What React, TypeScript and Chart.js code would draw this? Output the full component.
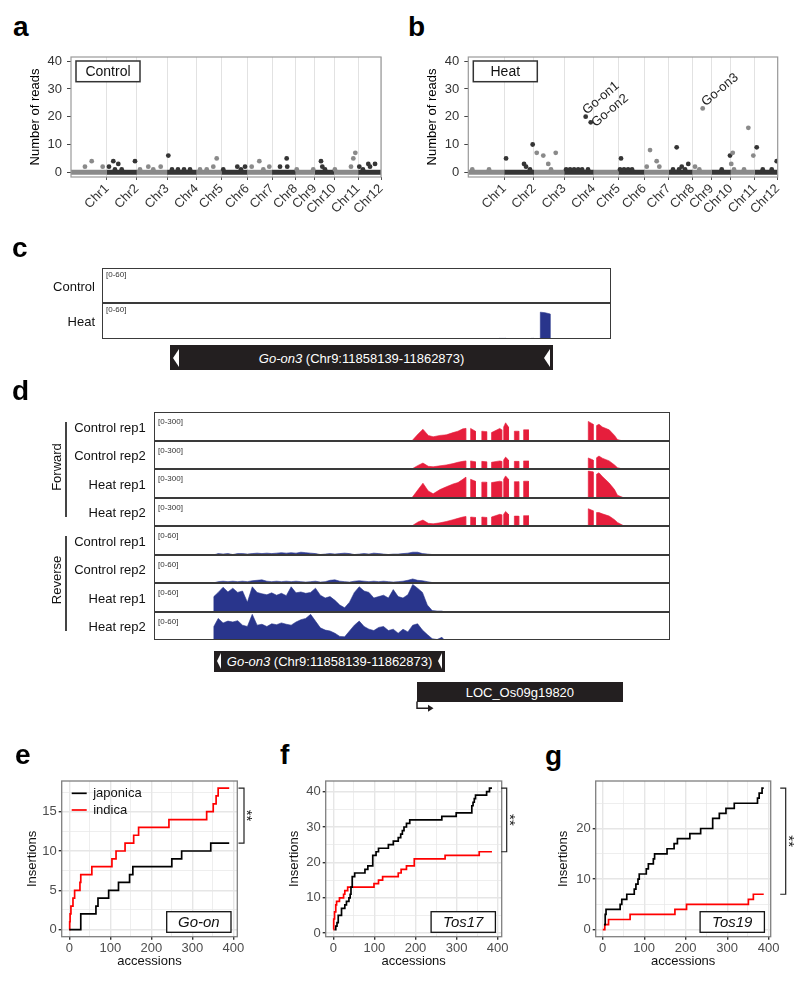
import React, { useEffect, useRef } from 'react';
import { Chart, registerables } from 'chart.js';

Chart.register(...registerables);

const FONT = "'Liberation Sans', Arial, Helvetica, sans-serif";

/* ================= a / b : genome-wide read counts ================= */
const chrNames = ['Chr1', 'Chr2', 'Chr3', 'Chr4', 'Chr5', 'Chr6', 'Chr7', 'Chr8', 'Chr9', 'Chr10', 'Chr11', 'Chr12'];
const chrSizesMb = [43.3, 35.9, 36.4, 35.5, 29.9, 31.2, 29.7, 28.4, 23.0, 23.2, 29.0, 27.5];
const readTicks = [0, 10, 20, 30, 40];

const controlPosMb = [16.8, 24.9, 38.1, 45.7, 50.9, 56.9, 52.9, 61, 77, 83, 93, 99, 107.9, 117.1, 121.5, 128.7, 136, 143.2, 155.2, 163.3, 171.2, 175.3, 183.2, 200.1, 204.5, 209.4, 217.4, 226.6, 231.4, 238.6, 251.5, 259.5, 260.2, 271.6, 291.5, 300.8, 302.4, 305.6, 317.5, 336.9, 339.7, 342.1, 346.9, 351.3, 357.7, 359.8, 365.8];
const controlReads = [2, 4, 2, 2, 4, 3, 1, 1, 4, 1, 2, 1, 2, 6, 1, 1, 1, 1, 1, 1, 2, 5, 1, 2, 1, 2, 2, 4, 1, 2, 2, 5, 2, 1, 1, 4, 2, 1, 1, 2, 5, 7, 2, 1, 3, 2, 3];

const heatPosMb = [4.8, 25, 45.5, 67.2, 69.6, 74.4, 77.6, 82.5, 90.4, 96.4, 99.7, 105.4, 117.9, 122.7, 127.5, 132.4, 137.2, 141.5, 144.3, 147.6, 182.9, 184.1, 187.7, 192.6, 197.4, 215.1, 219.1, 227.1, 230.3, 246.8, 251.2, 254, 257.3, 261.3, 265.2, 273.3, 278.5, 282.6, 305.5, 315.5, 317, 318.8, 320.3, 332.4, 337.6, 343.6, 347.7, 355, 365.8, 371.8];
const heatReads = [1, 1, 5, 3, 2, 1, 10, 7, 6, 3, 1, 7, 1, 1, 1, 1, 1, 20, 1, 18, 1, 5, 1, 1, 1, 2, 8, 4, 2, 1, 9, 1, 2, 1, 3, 2, 1, 23, 1, 6, 3, 7, 1, 1, 16, 6, 9, 1, 1, 4];

const annotNames = ['Go-on1', 'Go-on2', 'Go-on3'];
const annotPosMb = [141.5, 147.6, 282.6];
const annotReads = [20, 18, 23];

/* ================= c : Go-on3 coverage (kb from window start) ================= */
const cTrackNames = ['Control', 'Heat'];
const cWindowKb = 6.295;
const cGeneKb = [0.844, 5.578];
const cPosKb = [0, 4.9, 4.92, 5.0, 5.01, 5.31, 5.32, 5.35, 5.36, 5.43, 5.43, 5.49, 5.55, 5.55, 6.295];
const cControlCov = [0, 0, 0, 0, 0, 0, 0, 0, 0, 0, 0, 0, 0, 0, 0];
const cHeatCov = [0, 0, 1, 1, 0, 0, 1, 1, 0, 0, 46, 45, 43, 0, 0];

/* ================= d : stranded RNA-seq (kb from window start) ================= */
const dWindowKb = 10.57;
const dGoOn3Kb = [1.23, 5.965];
const dLocKb = [5.39, 9.6];
const dTrackNames = ['Control rep1', 'Control rep2', 'Heat rep1', 'Heat rep2', 'Control rep1', 'Control rep2', 'Heat rep1', 'Heat rep2'];

const fwdPosKb = [5.28, 5.41, 5.51, 5.62, 5.72, 5.86, 5.99, 6.13, 6.23, 6.33, 6.39, 6.39, 6.49, 6.49, 6.59, 6.59, 6.72, 6.72, 6.82, 6.82, 6.92, 6.92, 7.09, 7.13, 7.13, 7.17, 7.17, 7.21, 7.27, 7.27, 7.39, 7.39, 7.48, 7.48, 7.58, 7.58, 7.68, 7.68, 8.91, 8.91, 9.01, 9.01, 9.08, 9.08, 9.13, 9.2, 9.34, 9.45, 9.51, 9.58, 9.65];
const fwdControlRep1 = [0, 75, 126, 60, 45, 60, 66, 90, 105, 130, 135, 0, 0, 135, 105, 0, 0, 105, 100, 0, 0, 90, 135, 120, 0, 0, 150, 195, 150, 0, 0, 105, 105, 0, 0, 120, 120, 0, 0, 210, 180, 0, 0, 165, 180, 150, 120, 60, 15, 6, 0];
const fwdControlRep2 = [0, 40, 66, 30, 25, 35, 45, 60, 75, 85, 90, 0, 0, 90, 80, 0, 0, 85, 80, 0, 0, 75, 90, 85, 0, 0, 100, 132, 100, 0, 0, 85, 85, 0, 0, 90, 90, 0, 0, 123, 100, 0, 0, 125, 144, 120, 90, 45, 15, 5, 0];
const fwdHeatRep1 = [0, 90, 159, 75, 45, 90, 120, 150, 165, 200, 222, 0, 0, 200, 180, 0, 0, 170, 170, 0, 0, 165, 180, 175, 0, 0, 200, 237, 200, 0, 0, 175, 175, 0, 0, 180, 180, 0, 0, 288, 280, 0, 0, 255, 270, 230, 160, 90, 30, 15, 0];
const fwdHeatRep2 = [0, 45, 66, 30, 25, 35, 50, 70, 85, 100, 105, 0, 0, 100, 95, 0, 0, 100, 95, 0, 0, 100, 130, 125, 0, 0, 130, 162, 130, 0, 0, 110, 110, 0, 0, 115, 115, 0, 0, 192, 170, 0, 0, 150, 150, 135, 110, 70, 40, 20, 0];

const revPosKb = [1.2, 1.21, 1.3, 1.4, 1.5, 1.6, 1.7, 1.8, 1.9, 2.0, 2.1, 2.2, 2.3, 2.4, 2.5, 2.6, 2.7, 2.8, 2.9, 3.0, 3.1, 3.2, 3.3, 3.4, 3.5, 3.6, 3.7, 3.8, 3.9, 4.0, 4.1, 4.2, 4.3, 4.4, 4.5, 4.6, 4.7, 4.8, 4.9, 5.0, 5.1, 5.2, 5.3, 5.4, 5.5, 5.6, 5.7, 5.8, 5.9, 5.95];
const revControlRep1 = [0, 0, 3, 2, 3, 1, 3, 3, 2, 3, 4, 3, 4, 3, 4, 5, 4, 5, 4, 6, 5, 4, 3, 1, 2, 3, 2, 3, 4, 3, 1, 2, 3, 2, 4, 3, 2, 1, 2, 2, 3, 4, 6, 6, 3, 2, 1, 0, 1, 0];
const revControlRep2 = [0, 0, 3, 4, 3, 4, 3, 4, 3, 5, 6, 7, 4, 3, 4, 3, 4, 3, 4, 3, 2, 3, 4, 2, 3, 6, 7, 4, 3, 2, 4, 5, 4, 3, 4, 3, 4, 3, 2, 3, 4, 6, 9, 6, 5, 3, 1, 0, 0, 0];
const revHeatRep1 = [0, 33, 42, 53, 43, 51, 42, 45, 21, 54, 42, 39, 37, 41, 36, 40, 35, 54, 41, 43, 40, 42, 51, 36, 30, 33, 25, 15, 9, 21, 42, 54, 45, 42, 30, 33, 36, 30, 48, 33, 30, 37, 59, 51, 42, 15, 3, 2, 2, 0];
const revHeatRep2 = [0, 30, 48, 38, 42, 40, 43, 33, 30, 57, 33, 35, 30, 36, 34, 38, 35, 33, 40, 45, 48, 57, 42, 27, 22, 20, 15, 8, 7, 20, 33, 42, 30, 24, 21, 28, 30, 21, 24, 15, 24, 18, 33, 36, 22, 12, 3, 1, 6, 0];

/* ================= e / f / g : cumulative insertions ================= */
const accTicks = [0, 50, 100, 150, 200, 250, 300, 350, 400];

const eJapX = [0, 28, 65, 70, 96, 120, 147, 155, 250, 274, 345, 390];
const eJapY = [0, 2, 3, 4, 5, 6, 7, 8, 9, 10, 11, 11];
const eIndX = [0, 1, 2, 4, 9, 13, 26, 28, 55, 104, 114, 136, 157, 169, 243, 335, 351, 358, 363, 390];
const eIndY = [0, 1, 2, 3, 4, 5, 6, 7, 8, 9, 10, 11, 12, 13, 14, 15, 16, 17, 18, 18];
const eYTicks = [0, 2.5, 5, 7.5, 10, 12.5, 15, 17.5];

const fJapX = [3, 6, 9, 12, 20, 28, 32, 38, 41, 43, 46, 52, 77, 84, 96, 104, 110, 134, 146, 158, 164, 168, 172, 178, 186, 264, 299, 337, 340, 343, 346, 373, 380, 386];
const fJapY = [1, 2, 3, 5, 7, 8, 9, 10, 11, 13, 16, 17, 18, 19, 22, 23, 24, 25, 26, 27, 28, 29, 30, 31, 32, 33, 34, 36, 37, 38, 39, 40, 41, 41];
const fIndX = [0, 1, 3, 6, 8, 15, 25, 28, 35, 99, 110, 120, 158, 165, 178, 197, 272, 355, 386];
const fIndY = [1, 4, 6, 8, 9, 10, 11, 12, 13, 14, 15, 16, 17, 18, 19, 21, 22, 23, 23];
const fYTicks = [0, 5, 10, 15, 20, 25, 30, 35, 40];

const gJapX = [3, 6, 8, 42, 46, 58, 76, 80, 85, 88, 105, 110, 122, 125, 155, 172, 180, 210, 236, 265, 281, 297, 317, 373, 377, 384, 388];
const gJapY = [1, 3, 4, 5, 6, 7, 8, 9, 10, 11, 12, 13, 14, 15, 16, 17, 18, 19, 20, 22, 23, 24, 25, 26, 27, 28, 28];
const gIndX = [0, 5, 14, 66, 174, 202, 351, 363, 388];
const gIndY = [0, 1, 2, 3, 4, 5, 6, 7, 7];
const gYTicks = [0, 5, 10, 15, 20, 25];

/* ================= styling ================= */
const PT_LIGHT = '#8a8a8a';
const PT_DARK = '#353535';
const COV_RED = '#e61e3c';
const COV_BLUE = '#29358c';
const GENE_FILL = '#231f20';
const FRAME = '#3a3a3a';
const annotNudge = [[1, -2], [5, 5], [3, -2]];

const chrStarts: number[] = [];
const chrEnds: number[] = [];
chrSizesMb.reduce((acc, s) => { chrStarts.push(acc); chrEnds.push(acc + s); return acc + s; }, 0);
const genomeEnd = chrEnds[chrEnds.length - 1];
const chrIndexOf = (p: number) => { const i = chrEnds.findIndex((e) => p < e); return i < 0 ? chrEnds.length - 1 : i; };
const chrColor = (i: number) => (i % 2 === 0 ? PT_LIGHT : PT_DARK);

function manhattanConfig(pos: number[], reads: number[], boxText: string, annots: any[], g: any) {
  const datasets: any[] = chrSizesMb.map((_, i) => ({
    data: [{ x: chrStarts[i], y: 0 }, { x: chrEnds[i], y: 0 }],
    showLine: true, borderColor: chrColor(i), borderWidth: 5, borderCapStyle: 'butt', pointRadius: 0, order: 2,
  }));
  datasets.push({
    data: pos.map((p, k) => ({ x: p, y: reads[k] })),
    backgroundColor: pos.map((p) => chrColor(chrIndexOf(p))),
    pointRadius: 2.4, borderWidth: 0, order: 1,
  });
  const deco = {
    id: 'mdeco',
    afterDatasetsDraw(chart: any) {
      const { ctx, chartArea: a, scales } = chart;
      ctx.save();
      ctx.strokeStyle = '#9a9a9a'; ctx.lineWidth = 1.2;
      ctx.strokeRect(a.left, a.top, a.right - a.left, a.bottom - a.top);
      const bx = a.left + 5, by = a.top + 4, bw = 64, bh = 20.7;
      ctx.fillStyle = '#fff'; ctx.fillRect(bx, by, bw, bh);
      ctx.strokeStyle = '#333'; ctx.lineWidth = 1.5; ctx.strokeRect(bx, by, bw, bh);
      ctx.fillStyle = '#111'; ctx.font = `14px ${FONT}`; ctx.textAlign = 'center'; ctx.textBaseline = 'middle';
      ctx.fillText(boxText, bx + bw / 2, by + bh / 2 + 0.5);
      annots.forEach((an: any) => {
        const px = scales.x.getPixelForValue(an.x), py = scales.y.getPixelForValue(an.y);
        ctx.save(); ctx.translate(px + an.dx, py + an.dy); ctx.rotate(-40 * Math.PI / 180);
        ctx.textAlign = 'left'; ctx.textBaseline = 'alphabetic'; ctx.font = `13px ${FONT}`; ctx.fillStyle = '#222';
        ctx.fillText(an.text, 0, 0); ctx.restore();
      });
      ctx.restore();
    },
  };
  return {
    type: 'scatter',
    data: { datasets },
    options: {
      responsive: false, animation: false, events: [],
      layout: { padding: { left: g.pl, right: g.pr, top: g.pt, bottom: 0 } },
      plugins: { legend: { display: false }, tooltip: { enabled: false } },
      scales: {
        x: {
          type: 'linear', min: 0, max: genomeEnd,
          afterBuildTicks: (s: any) => { s.ticks = chrEnds.map((v) => ({ value: v })); },
          ticks: { autoSkip: false, minRotation: 45, maxRotation: 45, padding: 1, color: '#333', font: { family: FONT, size: 13 }, callback: (_v: any, i: number) => chrNames[i] },
          grid: { color: '#e2e2e2', lineWidth: 1, drawTicks: true, tickLength: 3, tickColor: '#555' },
          border: { display: false },
          afterFit: (s: any) => { s.height = g.xh; },
        },
        y: {
          min: -1.7, max: 41.5,
          afterBuildTicks: (s: any) => { s.ticks = readTicks.map((v) => ({ value: v })); },
          ticks: { padding: 5, color: '#333', font: { family: FONT, size: 13 } },
          grid: { drawOnChartArea: false, drawTicks: true, tickLength: 4, tickColor: '#444' },
          border: { display: false },
          title: { display: true, text: 'Number of reads', color: '#000', font: { family: FONT, size: 13 }, padding: { top: 4, bottom: 4 } },
          afterFit: (s: any) => { s.width = g.yw; },
        },
      },
    },
    plugins: [deco],
  };
}

function trackConfig(pos: number[], vals: number[], xmax: number, ymax: number, color: string) {
  return {
    type: 'line',
    data: { datasets: [{ data: pos.map((p, i) => ({ x: p, y: vals[i] })), fill: 'origin', backgroundColor: color, borderColor: color, borderWidth: 0.6, pointRadius: 0, tension: 0 }] },
    options: {
      responsive: false, animation: false, events: [],
      layout: { padding: 0 },
      plugins: { legend: { display: false }, tooltip: { enabled: false } },
      scales: { x: { type: 'linear', min: 0, max: xmax, display: false }, y: { min: 0, max: ymax, display: false } },
    },
  };
}

function stepConfig(p: any) {
  const majX = (v: number) => v % 100 === 0;
  const majY = (v: number) => v % p.yMajorStep === 0;
  const lastJ = p.jy[p.jy.length - 1], lastI = p.iy[p.iy.length - 1];
  const deco = {
    id: 'ggdeco',
    afterDraw(chart: any) {
      const { ctx, chartArea: a, scales, data } = chart;
      ctx.save();
      ctx.strokeStyle = '#7f7f7f'; ctx.lineWidth = 1.3;
      ctx.strokeRect(a.left, a.top, a.right - a.left, a.bottom - a.top);
      if (p.legend) {
        data.datasets.forEach((ds: any, k: number) => {
          const y = a.top + 12.3 + k * 16.7;
          ctx.strokeStyle = ds.borderColor; ctx.lineWidth = 1.7;
          ctx.beginPath(); ctx.moveTo(a.left + 10, y); ctx.lineTo(a.left + 25, y); ctx.stroke();
          ctx.fillStyle = '#111'; ctx.font = `13px ${FONT}`; ctx.textAlign = 'left'; ctx.textBaseline = 'middle';
          ctx.fillText(ds.label, a.left + 31.5, y + 0.5);
        });
      }
      const bw = 64.3, bh = 20.6, bx = a.right - 6.3 - bw, by = a.bottom - 4.4 - bh;
      ctx.fillStyle = '#fff'; ctx.fillRect(bx, by, bw, bh);
      ctx.strokeStyle = '#111'; ctx.lineWidth = 1.3; ctx.strokeRect(bx, by, bw, bh);
      ctx.fillStyle = '#111'; ctx.font = `italic 15px ${FONT}`; ctx.textAlign = 'center'; ctx.textBaseline = 'middle';
      ctx.fillText(p.tag, bx + bw / 2, by + bh / 2 + 0.5);
      const yT = scales.y.getPixelForValue(Math.max(lastJ, lastI));
      const yB = scales.y.getPixelForValue(Math.min(lastJ, lastI));
      const x = a.right + p.bracketDx;
      ctx.strokeStyle = '#222'; ctx.lineWidth = 1.2;
      ctx.beginPath(); ctx.moveTo(x - 5.5, yT); ctx.lineTo(x, yT); ctx.lineTo(x, yB); ctx.lineTo(x - 5.5, yB); ctx.stroke();
      ctx.save(); ctx.translate(x + 2, (yT + yB) / 2); ctx.rotate(Math.PI / 2);
      ctx.fillStyle = '#222'; ctx.font = `15px ${FONT}`; ctx.textAlign = 'center'; ctx.textBaseline = 'middle';
      ctx.fillText('**', 0, 0); ctx.restore();
      ctx.restore();
    },
  };
  const line = (label: string, xs: number[], ys: number[], color: string) => ({
    label, data: xs.map((x, i) => ({ x, y: ys[i] })), borderColor: color, borderWidth: 1.7, stepped: 'before', pointRadius: 0, fill: false,
  });
  return {
    type: 'line',
    data: { datasets: [line('japonica', p.jx, p.jy, '#000000'), line('indica', p.ix, p.iy, '#ff0000')] },
    options: {
      responsive: false, animation: false, events: [],
      layout: { padding: { left: p.pl, right: p.pr, top: p.pt, bottom: p.pb } },
      plugins: { legend: { display: false }, tooltip: { enabled: false } },
      scales: {
        x: {
          type: 'linear', min: p.xmin, max: p.xmax,
          afterBuildTicks: (s: any) => { s.ticks = accTicks.map((v) => ({ value: v })); },
          ticks: { autoSkip: false, maxRotation: 0, padding: 1, color: '#4d4d4d', font: { family: FONT, size: 13 }, callback: (v: number) => (majX(v) ? String(v) : '') },
          grid: { color: '#e6e6e6', lineWidth: (c: any) => (c.tick && majX(c.tick.value) ? 1.4 : 0.7), tickLength: 3, tickColor: (c: any) => (c.tick && majX(c.tick.value) ? '#333' : 'rgba(0,0,0,0)') },
          border: { display: false },
          title: { display: true, text: 'accessions', color: '#111', font: { family: FONT, size: 13 }, padding: { top: 4, bottom: 4 } },
          afterFit: (s: any) => { s.height = p.xh; },
        },
        y: {
          min: p.ymin, max: p.ymax,
          afterBuildTicks: (s: any) => { s.ticks = p.yTicks.map((v: number) => ({ value: v })); },
          ticks: { padding: 2, color: '#4d4d4d', font: { family: FONT, size: 13 }, callback: (v: number) => (majY(v) ? String(v) : '') },
          grid: { color: '#e6e6e6', lineWidth: (c: any) => (c.tick && majY(c.tick.value) ? 1.4 : 0.7), tickLength: 3, tickColor: (c: any) => (c.tick && majY(c.tick.value) ? '#333' : 'rgba(0,0,0,0)') },
          border: { display: false },
          title: { display: true, text: 'Insertions', color: '#111', font: { family: FONT, size: 13 }, padding: { top: 4, bottom: 4 } },
          afterFit: (s: any) => { s.width = p.yw; },
        },
      },
    },
    plugins: [deco],
  };
}

/* ================= components ================= */
function ChartCanvas({ x, y, w, h, make }: any) {
  const ref = useRef<HTMLCanvasElement | null>(null);
  useEffect(() => {
    if (!ref.current) return;
    const chart = new Chart(ref.current, make());
    return () => chart.destroy();
  }, []);
  return <canvas ref={ref} width={w} height={h} style={{ position: 'absolute', left: x, top: y, width: w, height: h }} />;
}

function Txt({ x, y, size = 13, align = 'left', italic = false, color = '#111', children }: any) {
  const tx = align === 'right' ? '-100%' : align === 'center' ? '-50%' : '0';
  return (
    <div style={{ position: 'absolute', left: x, top: y, transform: `translate(${tx}, -50%)`, fontFamily: FONT, fontSize: size, lineHeight: 1, whiteSpace: 'nowrap', color, fontStyle: italic ? 'italic' : 'normal' }}>
      {children}
    </div>
  );
}

function Letter({ x, base, ch }: any) {
  return <div style={{ position: 'absolute', left: x, top: base - 23.7, fontFamily: FONT, fontWeight: 'bold', fontSize: 28, lineHeight: '28px', color: '#000' }}>{ch}</div>;
}

function LeftTri({ x, y, w, h }: any) {
  return <div style={{ position: 'absolute', left: x, top: y, width: 0, height: 0, borderTop: `${h / 2}px solid transparent`, borderBottom: `${h / 2}px solid transparent`, borderRight: `${w}px solid #fff` }} />;
}

function GeneBox({ x, y, w, h, size, tri, triW, triH, label, italicPart }: any) {
  return (
    <>
      <div style={{ position: 'absolute', left: x, top: y, width: w, height: h, background: GENE_FILL }} />
      {tri && <LeftTri x={x + 3} y={y + (h - triH) / 2} w={triW} h={triH} />}
      {tri && <LeftTri x={x + w - triW - 3} y={y + (h - triH) / 2} w={triW} h={triH} />}
      <Txt x={x + w / 2} y={y + h / 2} size={size} align="center" color="#fff">
        {italicPart && <i>{italicPart}</i>}{label}
      </Txt>
    </>
  );
}

function TrackStack({ left, top, width, trackH, tracks, xmax, labelRight, rangeDy }: any) {
  const n = tracks.length;
  const tops = tracks.map((_: any, i: number) => Math.round(top + trackH * i));
  const bottom = Math.round(top + trackH * n);
  return (
    <>
      {tracks.map((t: any, i: number) => {
        const t0 = tops[i], t1 = i + 1 < n ? tops[i + 1] : bottom;
        return (
          <React.Fragment key={i}>
            <ChartCanvas x={left + 1} y={t0 + 1} w={width - 2} h={t1 - t0 - 1} make={() => trackConfig(t.pos, t.vals, xmax, t.max, t.color)} />
            <Txt x={left + 4} y={t0 + rangeDy} size={8} color="#333">{t.range}</Txt>
            <Txt x={labelRight} y={(t0 + t1) / 2} size={13} align="right">{t.name}</Txt>
            {i > 0 && <div style={{ position: 'absolute', left, top: t0 - 0.75, width, height: 1.5, background: FRAME }} />}
          </React.Fragment>
        );
      })}
      <div style={{ position: 'absolute', left, top, width, height: bottom - top, border: `1.5px solid ${FRAME}`, boxSizing: 'border-box' }} />
    </>
  );
}

export default function App() {
  const cLeft = 102, cWidth = 509;
  const dLeft = 154, dWidth = 516;
  const cTracks = [
    { name: cTrackNames[0], range: '[0-60]', pos: cPosKb, vals: cControlCov, max: 60, color: COV_BLUE },
    { name: cTrackNames[1], range: '[0-60]', pos: cPosKb, vals: cHeatCov, max: 60, color: COV_BLUE },
  ];
  const fwdSets = [fwdControlRep1, fwdControlRep2, fwdHeatRep1, fwdHeatRep2];
  const revSets = [revControlRep1, revControlRep2, revHeatRep1, revHeatRep2];
  const dTracks = dTrackNames.map((name, i) => (i < 4
    ? { name, range: '[0-300]', pos: fwdPosKb, vals: fwdSets[i], max: 300, color: COV_RED }
    : { name, range: '[0-60]', pos: revPosKb, vals: revSets[i - 4], max: 60, color: COV_BLUE }));
  const cx = (kb: number) => cLeft + (kb / cWindowKb) * cWidth;
  const dx = (kb: number) => dLeft + (kb / dWindowKb) * dWidth;
  const heatAnnots = annotNames.map((text, i) => ({ text, x: annotPosMb[i], y: annotReads[i], dx: annotNudge[i][0], dy: annotNudge[i][1] }));

  return (
    <div style={{ position: 'absolute', left: 0, top: 0, width: 800, height: 981, background: '#fff', overflow: 'hidden' }}>
      {/* a, b */}
      <Letter x={13} base={37} ch="a" />
      <Letter x={408} base={37} ch="b" />
      <ChartCanvas x={0} y={40} w={400} h={215} make={() => manhattanConfig(controlPosMb, controlReads, 'Control', [], { pl: 24, yw: 47, pr: 19, pt: 17, xh: 78 })} />
      <ChartCanvas x={400} y={40} w={400} h={215} make={() => manhattanConfig(heatPosMb, heatReads, 'Heat', heatAnnots, { pl: 20.2, yw: 48.1, pr: 22.3, pt: 17, xh: 78 })} />

      {/* c */}
      <Letter x={12} base={258} ch="c" />
      <TrackStack left={cLeft} top={268} width={cWidth} trackH={35.3} tracks={cTracks} xmax={cWindowKb} labelRight={95} rangeDy={7} />
      <GeneBox x={cx(cGeneKb[0])} y={345} w={cx(cGeneKb[1]) - cx(cGeneKb[0])} h={25.3} size={13} tri triW={6} triH={18} italicPart="Go-on3" label=" (Chr9:11858139-11862873)" />

      {/* d */}
      <Letter x={12} base={401} ch="d" />
      <TrackStack left={dLeft} top={412} width={dWidth} trackH={28.5} tracks={dTracks} xmax={dWindowKb} labelRight={145.7} rangeDy={9.5} />
      <Txt x={56} y={466.7} size={13} align="center"><div style={{ transform: 'rotate(-90deg)' }}>Forward</div></Txt>
      <Txt x={56} y={580} size={13} align="center"><div style={{ transform: 'rotate(-90deg)' }}>Reverse</div></Txt>
      <div style={{ position: 'absolute', left: 65, top: 421.7, width: 1.8, height: 95, background: '#444' }} />
      <div style={{ position: 'absolute', left: 65, top: 536, width: 1.8, height: 95, background: '#444' }} />
      <GeneBox x={dx(dGoOn3Kb[0])} y={650.7} w={dx(dGoOn3Kb[1]) - dx(dGoOn3Kb[0])} h={21} size={13} tri triW={4.5} triH={17} italicPart="Go-on3" label=" (Chr9:11858139-11862873)" />
      <GeneBox x={dx(dLocKb[0])} y={681.7} w={dx(dLocKb[1]) - dx(dLocKb[0])} h={20} size={13} label="LOC_Os09g19820" />
      <svg style={{ position: 'absolute', left: dx(dLocKb[0]) - 1, top: 700, width: 24, height: 14 }} width={24} height={14}>
        <path d="M1 1.5 V8.3 H13" stroke={GENE_FILL} strokeWidth={1.5} fill="none" />
        <polygon points="12,4.8 17.5,8.3 12,11.8" fill={GENE_FILL} />
      </svg>

      {/* e, f, g */}
      <Letter x={15} base={765} ch="e" />
      <Letter x={280} base={765} ch="f" />
      <Letter x={545} base={766} ch="g" />
      <ChartCanvas x={0} y={740} w={265} h={241} make={() => stepConfig({ jx: eJapX, jy: eJapY, ix: eIndX, iy: eIndY, yTicks: eYTicks, yMajorStep: 5, ymin: -0.9, ymax: 18.9, xmin: -18.5, xmax: 409.7, pl: 20.2, yw: 41.5, pr: 27.7, pt: 41, pb: 7.5, xh: 36.8, bracketDx: 6.7, tag: 'Go-on', legend: true })} />
      <ChartCanvas x={265} y={740} w={265} h={241} make={() => stepConfig({ jx: fJapX, jy: fJapY, ix: fIndX, iy: fIndY, yTicks: fYTicks, yMajorStep: 10, ymin: -1, ymax: 43, xmin: -18.5, xmax: 409.7, pl: 17.7, yw: 43, pr: 28.3, pt: 41, pb: 7.5, xh: 36.8, bracketDx: 5, tag: 'Tos17', legend: false })} />
      <ChartCanvas x={530} y={740} w={270} h={241} make={() => stepConfig({ jx: gJapX, jy: gJapY, ix: gIndX, iy: gIndY, yTicks: gYTicks, yMajorStep: 10, ymin: -1.4, ymax: 29.4, xmin: -16.9, xmax: 404.8, pl: 21.9, yw: 43.8, pr: 29.3, pt: 41, pb: 7.5, xh: 36.8, bracketDx: 15, tag: 'Tos19', legend: false })} />
    </div>
  );
}
